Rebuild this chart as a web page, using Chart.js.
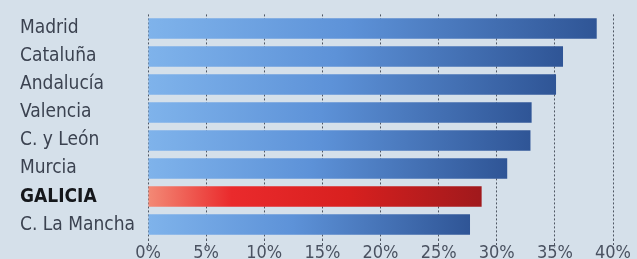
<!DOCTYPE html>
<html>
<head>
<meta charset="utf-8">
<script src="https://cdn.jsdelivr.net/npm/chart.js@4.4.1/dist/chart.umd.min.js"></script>
<style>
  html, body { margin: 0; padding: 0; background: #d5e0ea; }
  #wrap { width: 637px; height: 259px; position: relative; }
</style>
</head>
<body>
<div id="wrap"><canvas id="grafico"></canvas></div>
<script>
// datos
const regiones = ['Madrid', 'Cataluña', 'Andalucía', 'Valencia', 'C. y León', 'Murcia', 'GALICIA', 'C. La Mancha'];
const valores = [38.6, 35.7, 35.1, 33.0, 32.9, 30.9, 28.7, 27.7];
const destacada = 'GALICIA';
const ticksX = [0, 5, 10, 15, 20, 25, 30, 35, 40];

const FUENTE = "'DejaVu Sans Condensed', 'Liberation Sans Narrow', 'Liberation Sans', sans-serif";

const ctx = document.getElementById('grafico').getContext('2d');

function colorBarra(context) {
    const chart = context.chart;
    if (!chart.chartArea) return '#5b8fd6';
    const x0 = chart.scales.x.getPixelForValue(0);
    const x1 = chart.scales.x.getPixelForValue(context.raw);
    const g = chart.ctx.createLinearGradient(x0, 0, x1, 0);
    if (regiones[context.dataIndex] === destacada) {
        g.addColorStop(0, '#f38a76');
        g.addColorStop(0.25, '#ea2a2c');
        g.addColorStop(0.6, '#d8201f');
        g.addColorStop(1, '#a0191c');
    } else {
        g.addColorStop(0, '#7fb3eb');
        g.addColorStop(0.45, '#5d92d8');
        g.addColorStop(1, '#2f5596');
    }
    return g;
}

new Chart(ctx, {
    type: 'bar',
    data: {
        labels: regiones,
        datasets: [{
            data: valores,
            backgroundColor: colorBarra,
            borderWidth: 0,
            categoryPercentage: 1,
            barPercentage: 0.73
        }]
    },
    options: {
        indexAxis: 'y',
        responsive: true,
        maintainAspectRatio: false,
        animation: false,
        layout: { padding: { left: 20, right: 24, top: 13, bottom: 0 } },
        plugins: { legend: { display: false }, tooltip: { enabled: false } },
        scales: {
            x: {
                min: 0,
                max: 40,
                afterBuildTicks: function(scale) {
                    scale.ticks = ticksX.map(v => ({ value: v }));
                },
                grid: {
                    color: '#4f5663',
                    lineWidth: 1,
                    tickLength: 9,
                    tickBorderDash: [2, 2],
                    tickColor: '#4f5663'
                },
                border: { display: false, dash: [2, 2] },
                ticks: {
                    padding: -6,
                    autoSkip: false,
                    maxRotation: 0,
                    color: '#4a5261',
                    font: { family: FUENTE, size: 18, lineHeight: 1.3 },
                    callback: function(v) { return v + '%'; }
                }
            },
            y: {
                grid: { display: false },
                border: { display: false },
                afterFit: function(scale) { scale.width = 128; },
                ticks: {
                    autoSkip: false,
                    crossAlign: 'far',
                    color: function(c) { return c.tick.label === destacada ? '#15171b' : '#3b4250'; },
                    font: function(c) {
                        return c.tick.label === destacada
                            ? { family: FUENTE, size: 19, weight: 'bold' }
                            : { family: FUENTE, size: 19 };
                    }
                }
            }
        }
    }
});
</script>
</body>
</html>
